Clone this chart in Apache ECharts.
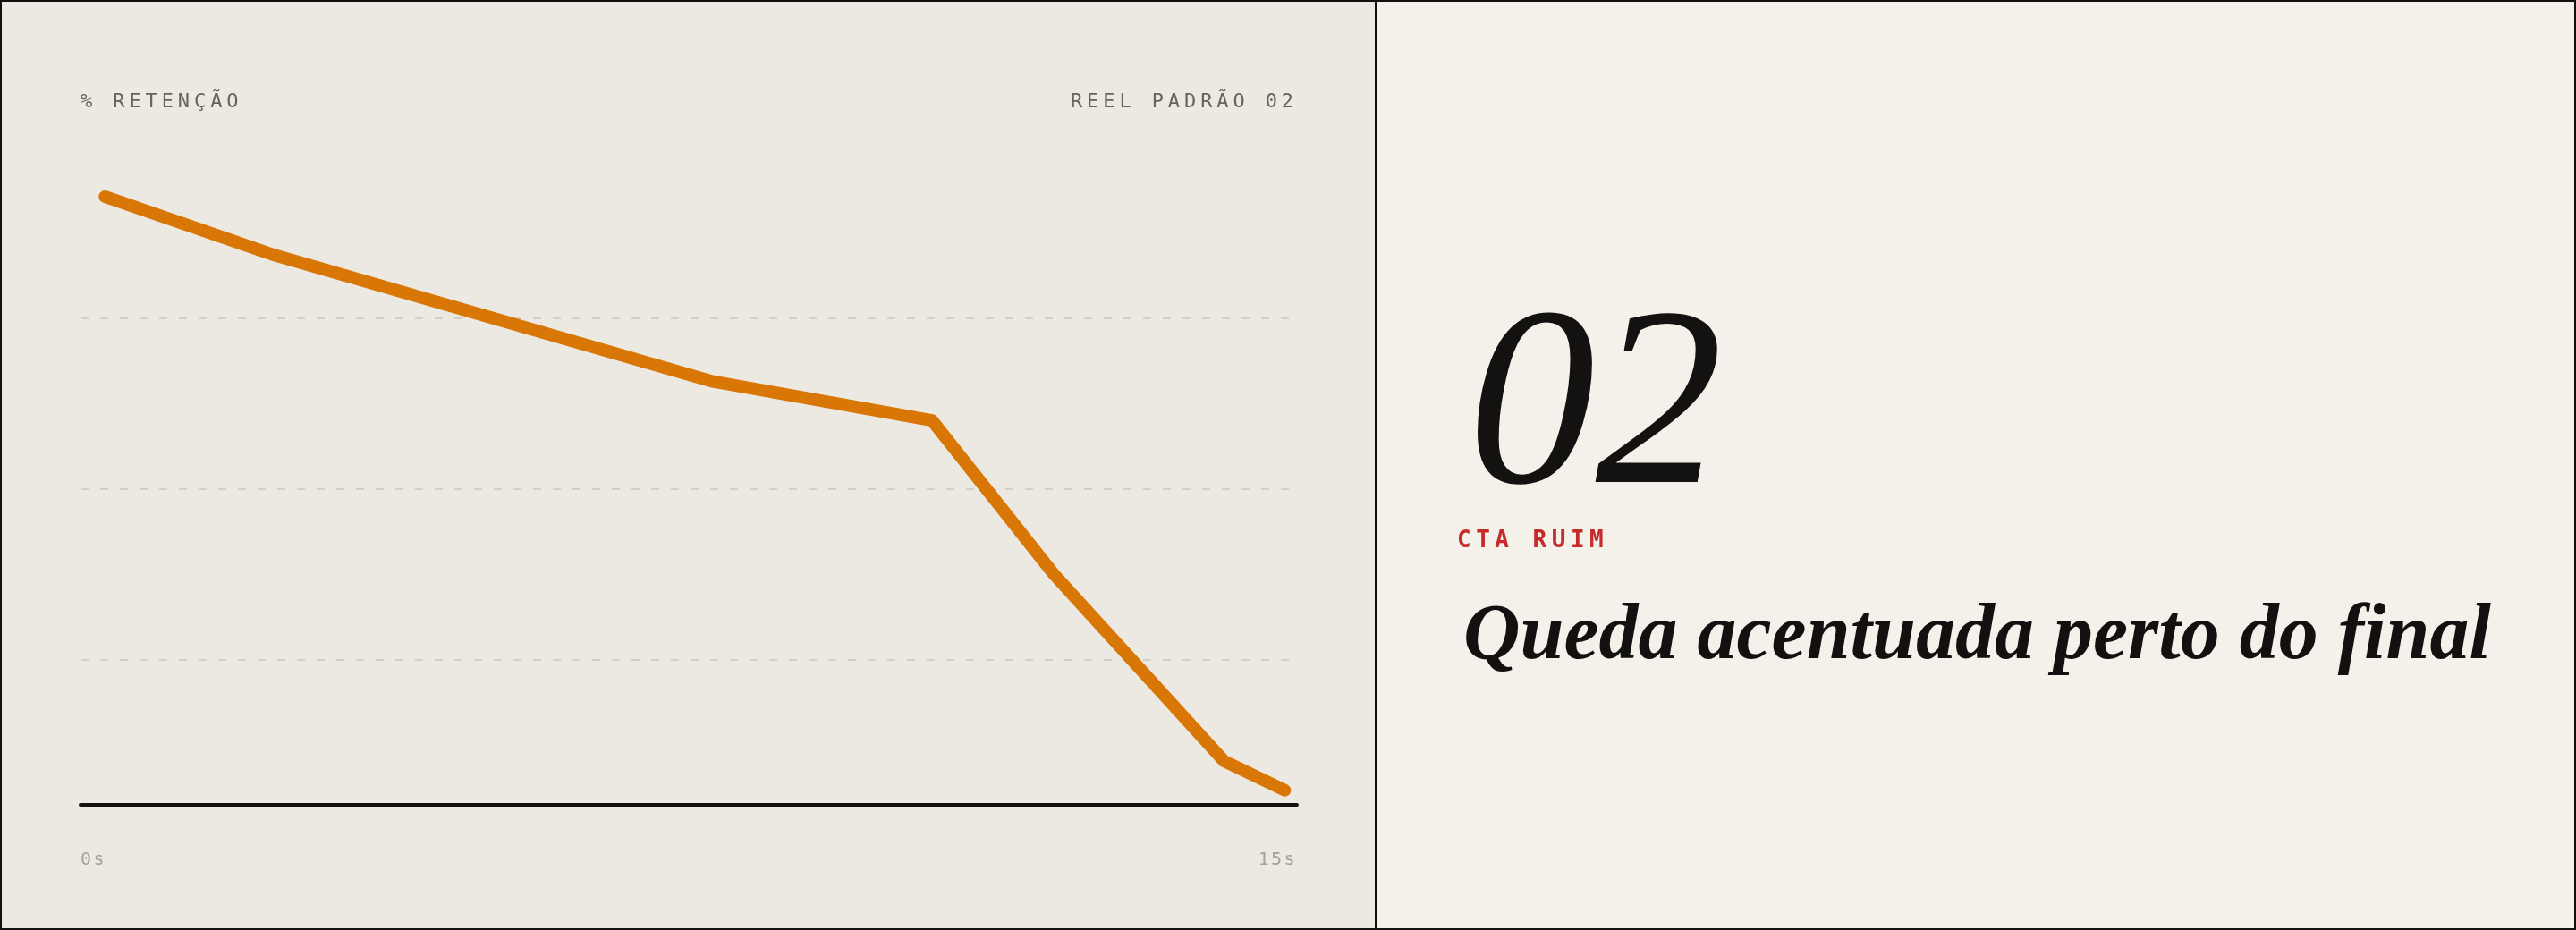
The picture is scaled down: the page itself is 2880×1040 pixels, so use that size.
<!DOCTYPE html>
<html>
<head>
<meta charset="utf-8">
<title>Reel padrão 02 - retenção</title>
<script src="https://cdn.jsdelivr.net/npm/echarts@6/dist/echarts.min.js"></script>
<style>
    html, body { margin: 0; padding: 0; }
    #retention_chart {
        width: 2880px;
        height: 1040px;
        background: linear-gradient(to right, #ECE9E3 0, #ECE9E3 1538px, #F3F1EA 1538px, #F3F1EA 100%);
    }
</style>
</head>
<body>
<div id="retention_chart"></div>
<script>

// Chart data
// ------------------------------

var seconds = [0.3, 2.4, 7.8, 10.5, 12, 14.1, 14.85];
var retention = [92.8, 84.2, 65.7, 60, 37.5, 10.1, 5.8];
var timeTicks = [0, 15];
var timeTickLabels = ['0s', '15s'];
var axisTitle = '% RETENÇÃO';
var reelTitle = 'REEL PADRÃO 02';
var reelNumber = '02';
var verdict = 'CTA RUIM';
var headline = 'Queda acentuada perto do final';


// Helpers
// ------------------------------

// Canvas text has no letter-spacing, so wrap each glyph in a padded rich token
var spaced = function(text, key) {
    return text.split('').map(function(ch) {
        return '{' + key + '|' + ch + '}';
    }).join('');
};

var monoFont = '"DejaVu Sans Mono", "Liberation Mono", monospace';
var serifFont = '"Liberation Serif", "DejaVu Serif", serif';


// Setup chart
// ------------------------------

var RetentionChart = function() {

    var _retentionChart = function() {
        if (typeof echarts == 'undefined') {
            console.warn('Warning - echarts.min.js is not loaded.');
            return;
        }

        var retention_element = document.getElementById('retention_chart');
        if (!retention_element) {
            return;
        }

        var retention_chart = echarts.init(retention_element);

        retention_chart.setOption({

            backgroundColor: 'transparent',
            animation: false,

            grid: {
                left: 90,
                right: 1430,
                top: 165,
                bottom: 112
            },

            // Time axis, its line sits a little above the 0 level
            xAxis: {
                type: 'value',
                min: timeTicks[0],
                max: timeTicks[timeTicks.length - 1],
                interval: timeTicks[1] - timeTicks[0],
                offset: -28,
                axisLine: {
                    show: true,
                    lineStyle: {
                        color: '#121110',
                        width: 4
                    }
                },
                axisTick: { show: false },
                splitLine: { show: false },
                axisLabel: {
                    margin: 52,
                    alignMinLabel: 'left',
                    alignMaxLabel: 'right',
                    formatter: function(value) {
                        var i = timeTicks.indexOf(value);
                        return spaced(i < 0 ? '' : timeTickLabels[i], 't');
                    },
                    rich: {
                        t: {
                            fontFamily: monoFont,
                            fontSize: 20,
                            lineHeight: 20,
                            color: '#A7A193',
                            padding: [0, 2.4, 0, 0]
                        }
                    }
                }
            },

            // Retention axis
            yAxis: {
                type: 'value',
                min: 0,
                max: 100,
                interval: 25,
                axisLine: { show: false },
                axisTick: { show: false },
                axisLabel: { show: false },
                splitLine: {
                    show: true,
                    showMinLine: false,
                    showMaxLine: false,
                    lineStyle: {
                        color: '#D3CFC6',
                        width: 2,
                        type: [9, 13]
                    }
                }
            },

            series: [{
                name: 'Retenção',
                type: 'line',
                showSymbol: false,
                silent: true,
                lineStyle: {
                    color: '#D97706',
                    width: 14,
                    cap: 'round',
                    join: 'round'
                },
                data: seconds.map(function(s, i) {
                    return [s, retention[i]];
                })
            }],

            graphic: [
                // Frame and divider
                {
                    type: 'rect',
                    silent: true,
                    shape: { x: 1, y: 1, width: 2878, height: 1038 },
                    style: { fill: 'none', stroke: '#121110', lineWidth: 2 }
                },
                {
                    type: 'rect',
                    silent: true,
                    shape: { x: 1537, y: 0, width: 2, height: 1040 },
                    style: { fill: '#121110' }
                },

                // Chart headers
                {
                    type: 'text',
                    silent: true,
                    style: {
                        x: 90,
                        y: 114,
                        verticalAlign: 'middle',
                        align: 'left',
                        text: spaced(axisTitle, 'h'),
                        rich: {
                            h: {
                                fontFamily: monoFont,
                                fontSize: 22,
                                fill: '#6A6358',
                                padding: [0, 4.9, 0, 0]
                            }
                        }
                    }
                },
                {
                    type: 'text',
                    silent: true,
                    style: {
                        x: 1451,
                        y: 114,
                        verticalAlign: 'middle',
                        align: 'right',
                        text: spaced(reelTitle, 'h'),
                        rich: {
                            h: {
                                fontFamily: monoFont,
                                fontSize: 22,
                                fill: '#6A6358',
                                padding: [0, 4.9, 0, 0]
                            }
                        }
                    }
                },

                // Right panel
                {
                    type: 'text',
                    silent: true,
                    style: {
                        x: 1641,
                        y: 464,
                        verticalAlign: 'middle',
                        align: 'left',
                        text: reelNumber,
                        fontFamily: serifFont,
                        fontStyle: 'italic',
                        fontSize: 285,
                        fill: '#141210'
                    }
                },
                {
                    type: 'text',
                    silent: true,
                    style: {
                        x: 1629,
                        y: 605,
                        verticalAlign: 'middle',
                        align: 'left',
                        text: spaced(verdict, 'c'),
                        rich: {
                            c: {
                                fontFamily: monoFont,
                                fontSize: 26,
                                fontWeight: 'bold',
                                fill: '#C62A2A',
                                padding: [0, 5.5, 0, 0]
                            }
                        }
                    }
                },
                {
                    type: 'text',
                    silent: true,
                    style: {
                        x: 1636,
                        y: 713,
                        verticalAlign: 'middle',
                        align: 'left',
                        text: headline,
                        fontFamily: serifFont,
                        fontStyle: 'italic',
                        fontWeight: 'bold',
                        fontSize: 88,
                        fill: '#121110'
                    }
                }
            ]
        });

        window.addEventListener('resize', function() {
            retention_chart.resize();
        });
    };

    return {
        init: function() {
            _retentionChart();
        }
    }
}();

document.addEventListener('DOMContentLoaded', function() {
    RetentionChart.init();
});
</script>
</body>
</html>
